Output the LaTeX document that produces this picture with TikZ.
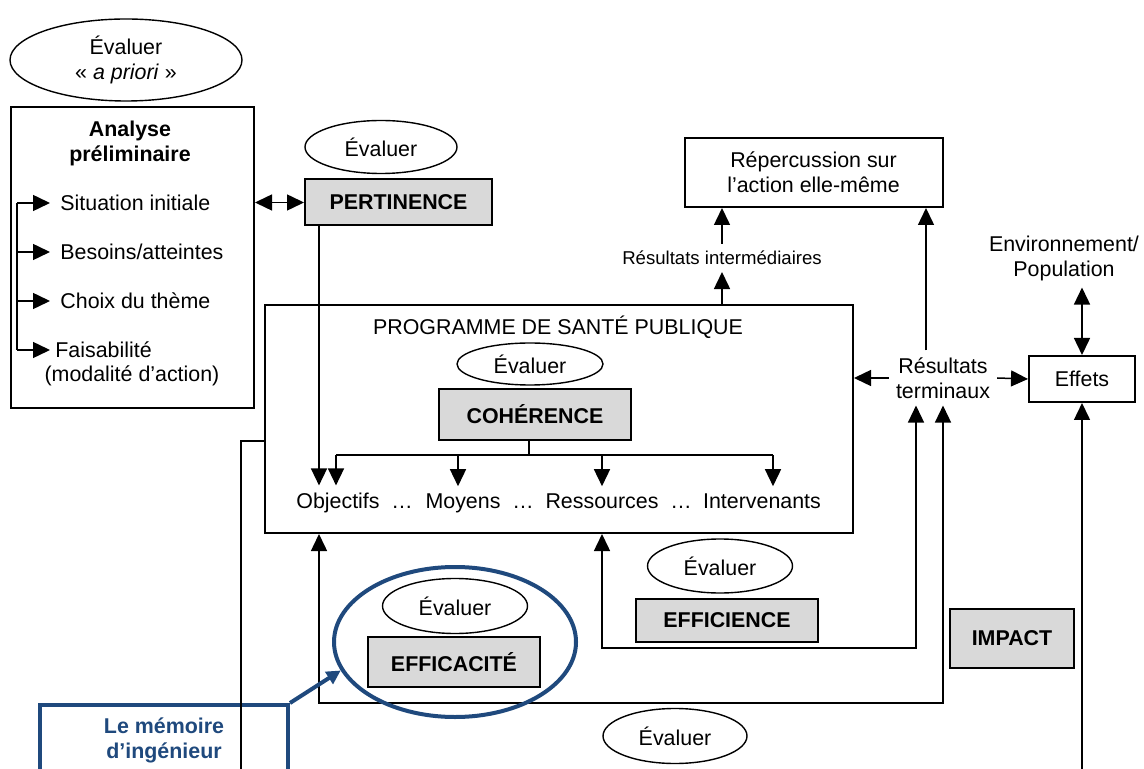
\documentclass[tikz,border=0pt]{standalone}
\usepackage{fontspec}
\setmainfont{Liberation Sans}
\usepackage{xcolor}
\usetikzlibrary{shapes.geometric, arrows.meta, positioning, calc}

\definecolor{memoblue}{HTML}{1F497D}
\definecolor{critgray}{HTML}{D9D9D9}

\begin{document}
\begin{tikzpicture}[x=0.5pt, y=-0.5pt,
  every node/.style={font=\fontsize{10.7}{12.5}\selectfont},
  evalell/.style={draw, ellipse, inner sep=0pt, line width=0.7pt},
  critbox/.style={draw, fill=critgray, line width=1pt, inner sep=0pt, font=\fontsize{10.7}{12.5}\selectfont\bfseries},
  plainbox/.style={draw, line width=1pt, inner sep=0pt},
  rowword/.style={anchor=base},
  ln/.style={line width=0.75pt},
  arr/.style={line width=0.75pt, -{Triangle[length=8.5pt,width=8pt]}},
  dbl/.style={line width=0.75pt, {Triangle[length=8.5pt,width=8pt]}-{Triangle[length=8.5pt,width=8pt]}}]
\clip (0,0) rectangle (1144,769);

% A priori
\node[evalell, minimum width=116pt, minimum height=41pt, align=center] (apriori) at (126,60) {Évaluer\\« \textit{a priori} »};
\node[plainbox, minimum width=121.5pt, minimum height=150.5pt] (analyse) at (132.5,257.5) {};
\node[align=center, font=\fontsize{10.7}{12.5}\selectfont\bfseries] (antitle) at (130,143) {Analyse\\préliminaire};
\node[anchor=west, inner xsep=5pt] (sit) at (50,203) {Situation initiale};
\node[anchor=west, inner xsep=5pt] (bes) at (50,252) {Besoins/atteintes};
\node[anchor=west, inner xsep=5pt] (choix) at (50,301) {Choix du thème};
\node[anchor=west, inner xsep=2.5pt] (fais) at (50,350) {Faisabilité};
\node (modal) at (132,376) {(modalité d’action)};
\coordinate (brk) at (17,0);
\draw[ln] (brk |- sit.west) -- (brk |- fais.west);
\foreach \n in {sit,bes,choix,fais}
  \draw[arr] (brk |- \n.west) -- (\n.west);

% Pertinence
\node[evalell, minimum width=76pt, minimum height=26.5pt] (pertev) at (381,147) {Évaluer};
\node[critbox, minimum width=93.5pt, minimum height=23pt] (pert) at (398.5,202.5) {PERTINENCE};
\draw[dbl] (pert.west -| analyse.east) -- (pert.west);

% Programme
\node[plainbox, minimum width=294pt, minimum height=114pt] (prog) at (559,419) {};
\node (progtitle) at (558,327) {PROGRAMME DE SANTÉ PUBLIQUE};
\node[evalell, minimum width=73pt, minimum height=21pt] (cohev) at (530,364) {Évaluer};
\node[critbox, minimum width=96pt, minimum height=25.5pt] (coh) at (535,414.5) {COHÉRENCE};
\node[rowword] (obj) at (338,508) {Objectifs};
\node[rowword] (dots1) at (402,508) {…};
\node[rowword] (moy) at (463,508) {Moyens};
\node[rowword] (dots2) at (523,508) {…};
\node[rowword] (ress) at (602,508) {Ressources};
\node[rowword] (dots3) at (681,508) {…};
\node[rowword] (intv) at (762,508) {Intervenants};
\coordinate (cb) at (0,455);
\draw[ln] ([xshift=-3pt]coh.south) -- ([xshift=-3pt]coh.south |- cb);
\draw[ln] ([xshift=-1pt]obj.north |- cb) -- ([xshift=5.5pt]intv.north |- cb);
\draw[arr] ([xshift=-1pt]obj.north |- cb) -- ([xshift=-1pt]obj.north);
\draw[arr] ([xshift=-2.5pt]moy.north |- cb) -- ([xshift=-2.5pt]moy.north);
\draw[arr] (ress.north |- cb) -- (ress.north);
\draw[arr] ([xshift=5.5pt]intv.north |- cb) -- ([xshift=5.5pt]intv.north);
\coordinate (pl) at (319,0);
\draw[arr] (pert.south -| pl) -- (pl |- obj.north);

% Resultats
\node[plainbox, minimum width=129pt, minimum height=34.5pt, align=center] (rep) at (813.5,172.5) {Répercussion sur\\l’action elle-même};
\node[font=\fontsize{9.3}{11}\selectfont] (interm) at (722,258) {Résultats intermédiaires};
\draw[arr] (prog.north -| interm) -- (interm.south);
\draw[arr] (interm.north) -- (interm.north |- rep.south);
\node[align=center] (term) at (943,378) {Résultats\\terminaux};
\draw[arr] (term.west) -- (term.west -| prog.east);
\draw[arr] ([xshift=-8.5pt]term.north) -- ([xshift=-8.5pt]term.north |- rep.south);
\node[plainbox, minimum width=53pt, minimum height=23pt] (eff) at (1082,379) {Effets};
\draw[arr] (term.east) -- (eff.west);
\node[align=center] (env) at (1064,258) {Environnement/\\Population};
\draw[dbl] (env.south -| eff.north) -- (eff.north);
\node[critbox, minimum width=62pt, minimum height=29.5pt] (impact) at (1012,638.5) {IMPACT};
\coordinate (bot) at (0,780);
\draw[arr] (eff.south |- bot) -- (eff.south);

% Efficience
\node[evalell, minimum width=72.5pt, minimum height=27pt] (effiev) at (720,566) {Évaluer};
\node[critbox, minimum width=91pt, minimum height=21.5pt] (effi) at (727,620.5) {EFFICIENCE};
\coordinate (loopa) at (0,648);
\draw[dbl] (ress.south |- prog.south) -- (ress.south |- loopa) -| ([xshift=-13.5pt]term.south);

% Efficacite
\node[evalell, minimum width=72.5pt, minimum height=27.5pt] (efcaev) at (455,606) {Évaluer};
\node[critbox, minimum width=86pt, minimum height=25pt] (efca) at (454,662) {EFFICACITÉ};
\coordinate (loopb) at (0,703);
\draw[dbl] (pl |- prog.south) -- (pl |- loopb) -| (term.south);
\node[draw=memoblue, ellipse, line width=2pt, inner sep=0pt, minimum width=121pt, minimum height=75pt] (focus) at (455,642) {};
\node[evalell, minimum width=72pt, minimum height=27.5pt] (impev) at (675,736) {Évaluer};

% Memoire
\node[draw=memoblue, line width=2pt, inner sep=0pt, minimum width=124pt, minimum height=60pt, anchor=north] (memo) at (164,703) {};
\node[align=center, text=memoblue, font=\fontsize{10.7}{12.5}\selectfont\bfseries] (memot) at (164,740) {Le mémoire\\d’ingénieur};
\draw[memoblue, line width=2pt, -{Triangle[length=7pt,width=7pt]}] (memo.north east) -- (focus.194);
\coordinate (ll) at (241,441);
\draw[ln] (ll -| prog.west) -- (ll) -- (ll |- bot);
\end{tikzpicture}
\end{document}
